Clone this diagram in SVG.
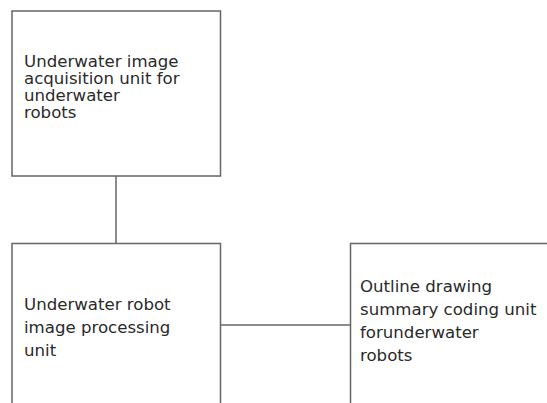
<svg xmlns="http://www.w3.org/2000/svg" width="547" height="403" viewBox="0 0 547 403">
<style>
.box{fill:#fff;stroke:#666;stroke-width:1.5}
.conn{fill:none;stroke:#666;stroke-width:1.5}
.t{font-family:"DejaVu Sans",sans-serif;font-size:16.6px;fill:#2a2a2a}
</style>
<rect width="547" height="403" fill="#fff"/>
<g id="connectors">
<line class="conn" x1="116" y1="176" x2="116" y2="243.5"/>
<line class="conn" x1="220.5" y1="325" x2="350.5" y2="325"/>
</g>
<g id="node-acquisition">
<rect class="box" x="12" y="11" width="208.5" height="165"/>
<text class="t" x="24" y="67">Underwater image</text>
<text class="t" x="24" y="84">acquisition unit for</text>
<text class="t" x="24" y="101">underwater</text>
<text class="t" x="24" y="118">robots</text>
</g>
<g id="node-processing">
<rect class="box" x="12" y="243.5" width="208.5" height="170"/>
<text class="t" x="24" y="310">Underwater robot</text>
<text class="t" x="24" y="333">image processing</text>
<text class="t" x="24" y="356">unit</text>
</g>
<g id="node-outline">
<rect class="box" x="350.5" y="243.5" width="210" height="170"/>
<text class="t" x="360" y="292">Outline drawing</text>
<text class="t" x="360" y="315">summary coding unit</text>
<text class="t" x="360" y="338">forunderwater</text>
<text class="t" x="360" y="361">robots</text>
</g>
</svg>
